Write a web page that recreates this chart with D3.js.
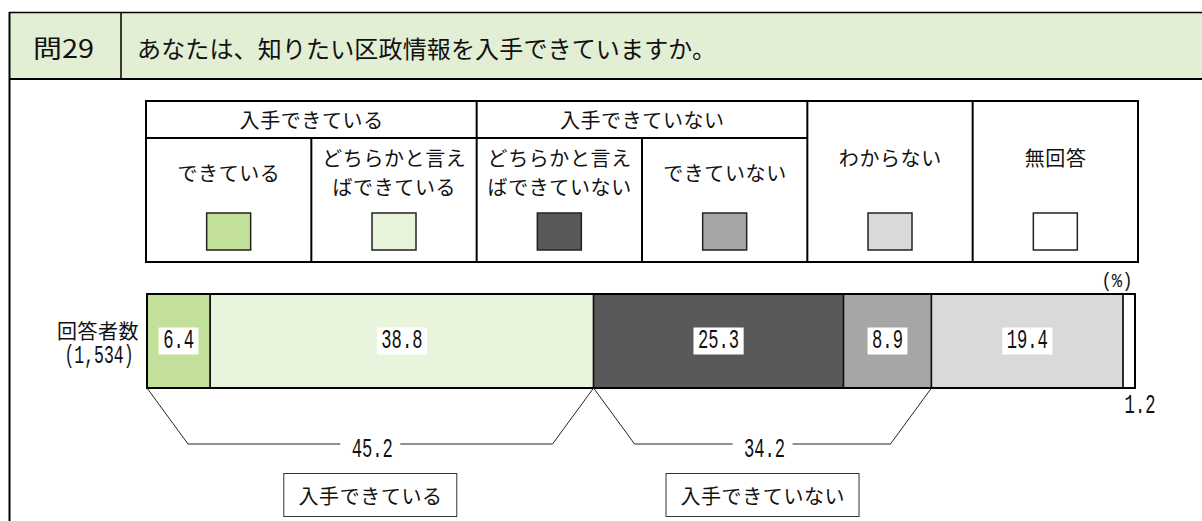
<!DOCTYPE html>
<html lang="ja">
<head>
<meta charset="utf-8">
<script src="https://cdn.jsdelivr.net/npm/d3@7"></script>
<style>
	body { margin: 0; background: #fff; }
	svg { display: block; }
	.jp { font-family: "Noto Sans CJK JP", sans-serif; fill: #111; }
	.num { font-family: "Liberation Mono", "DejaVu Sans Mono", monospace; fill: #111; }
</style>
</head>
<body>
<svg id="chart" width="1202" height="521"></svg>
<script>
const questionNo = '問29';
const questionText = 'あなたは、知りたい区政情報を入手できていますか。';
const categories = ['できている', 'どちらかと言えばできている', 'どちらかと言えばできていない', 'できていない', 'わからない', '無回答'];
const legendLines = [['できている'], ['どちらかと言え', 'ばできている'], ['どちらかと言え', 'ばできていない'], ['できていない'], ['わからない'], ['無回答']];
const values = [6.4, 38.8, 25.3, 8.9, 19.4, 1.2];
const colors = ['#c2e09a', '#e8f4dc', '#595959', '#a6a6a6', '#d9d9d9', '#ffffff'];
const groupLabels = ['入手できている', '入手できていない'];
const groupSpans = [[0, 1], [2, 3]];
const groupTotals = [45.2, 34.2];
const rowLabel = ['回答者数', '(1,534)'];

const svg = d3.select('#chart');
const charW = 10.3; // narrow mono digits

const numText = (sel, str, x, y, size = 27) => sel.append('text')
	.attr('class', 'num')
	.attr('x', x).attr('y', y)
	.attr('text-anchor', 'middle')
	.attr('dominant-baseline', 'central')
	.attr('font-size', size)
	.attr('textLength', str.length * charW)
	.attr('lengthAdjust', 'spacingAndGlyphs')
	.text(str);

// header band
svg.append('rect').attr('x', 9).attr('y', 12).attr('width', 1202).attr('height', 67).attr('fill', '#e2efd5');
svg.append('line').attr('x1', 9).attr('x2', 1202).attr('y1', 12.5).attr('y2', 12.5).attr('stroke', '#000').attr('stroke-width', 1.5);
svg.append('line').attr('x1', 9).attr('x2', 1202).attr('y1', 79).attr('y2', 79).attr('stroke', '#000').attr('stroke-width', 2);
svg.append('line').attr('x1', 9.5).attr('x2', 9.5).attr('y1', 12).attr('y2', 521).attr('stroke', '#000').attr('stroke-width', 2);
svg.append('line').attr('x1', 121).attr('x2', 121).attr('y1', 12).attr('y2', 79).attr('stroke', '#000').attr('stroke-width', 1.5);
svg.append('text').attr('class', 'jp').attr('x', 33).attr('y', 47)
	.attr('dominant-baseline', 'central').attr('font-size', 25)
	.attr('textLength', 61).attr('lengthAdjust', 'spacingAndGlyphs').text(questionNo);
svg.append('text').attr('class', 'jp').attr('x', 137).attr('y', 47)
	.attr('dominant-baseline', 'central').attr('font-size', 24)
	.attr('textLength', 579).attr('lengthAdjust', 'spacing').text(questionText);

// legend table
const col = d3.scaleBand().domain(categories).range([146, 1138]);
const legend = svg.append('g');
const tTop = 101, tMid = 138, tBottom = 262;
const jpText = (sel, str, x, y, size = 20) => sel.append('text')
	.attr('class', 'jp').attr('x', x).attr('y', y)
	.attr('text-anchor', 'middle').attr('dominant-baseline', 'central')
	.attr('font-size', size).attr('letter-spacing', 0.6)
	.text(str);

legend.append('rect').attr('x', col.range()[0]).attr('y', tTop)
	.attr('width', col.range()[1] - col.range()[0]).attr('height', tBottom - tTop)
	.attr('fill', 'none').attr('stroke', '#000').attr('stroke-width', 2);

groupSpans.forEach(([a, b], i) => {
	let x0 = col(categories[a]), x1 = col(categories[b]) + col.bandwidth();
	legend.append('line').attr('x1', x0).attr('x2', x1).attr('y1', tMid).attr('y2', tMid)
		.attr('stroke', '#000').attr('stroke-width', 2);
	jpText(legend, groupLabels[i], (x0 + x1) / 2 + 0.3, (tTop + tMid) / 2);
});

categories.forEach((c, i) => {
	let x0 = col(c), cx = x0 + col.bandwidth() / 2;
	if (i > 0) {
		let grouped = groupSpans.some(([a, b]) => i > a && i <= b);
		legend.append('line').attr('x1', x0).attr('x2', x0)
			.attr('y1', grouped ? tMid : tTop).attr('y2', tBottom)
			.attr('stroke', '#000').attr('stroke-width', 2);
	}
	let inGroup = groupSpans.some(([a, b]) => i >= a && i <= b);
	let lines = legendLines[i];
	let ys = lines.length === 2 ? [157, 186] : [inGroup ? 172 : 157];
	lines.forEach((l, k) => jpText(legend, l, cx + 0.3, ys[k]));
	legend.append('rect').attr('x', cx - 22).attr('y', 213)
		.attr('width', 44).attr('height', 37)
		.attr('fill', colors[i]).attr('stroke', '#222').attr('stroke-width', 1.5);
});

// stacked bar
const x = d3.scaleLinear().domain([0, 100]).range([147, 1135]);
const barTop = 294, barBottom = 388, barMid = (barTop + barBottom) / 2;
const starts = d3.cumsum([0].concat(values.slice(0, -1)));
const bar = svg.append('g');

bar.selectAll('rect.seg').data(values).join('rect')
	.attr('class', 'seg')
	.attr('x', (d, i) => x(starts[i]))
	.attr('y', barTop)
	.attr('width', (d, i) => x(starts[i] + d) - x(starts[i]))
	.attr('height', barBottom - barTop)
	.attr('fill', (d, i) => colors[i])
	.attr('stroke', '#111').attr('stroke-width', 1.5);
bar.append('rect').attr('x', x(0)).attr('y', barTop)
	.attr('width', x(100) - x(0)).attr('height', barBottom - barTop)
	.attr('fill', 'none').attr('stroke', '#000').attr('stroke-width', 2);

values.forEach((v, i) => {
	let str = v.toFixed(1);
	if (i === values.length - 1) {
		numText(bar, str, x(starts[i] + v / 2) + 11, 406);
		return;
	}
	let cx = x(starts[i] + v / 2), w = str.length * charW + 9;
	bar.append('rect').attr('x', cx - w / 2).attr('y', barMid - 13.5)
		.attr('width', w).attr('height', 27).attr('fill', '#fff');
	numText(bar, str, cx, barMid);
});

numText(svg, '(%)', 1117, 281, 21).attr('textLength', 31);

svg.append('text').attr('class', 'jp').attr('x', 139).attr('y', 330)
	.attr('text-anchor', 'end').attr('dominant-baseline', 'central')
	.attr('font-size', 20).attr('letter-spacing', 0.5).text(rowLabel[0]);
numText(svg, rowLabel[1], 99, 356, 25).attr('textLength', 69);

// group brackets
const lineY = 444, slant = 41, gap = 30;
groupSpans.forEach(([a, b], i) => {
	let x0 = x(starts[a]), x1 = x(starts[b] + values[b]), mid = (x0 + x1) / 2;
	let line = d3.line();
	svg.append('path')
		.attr('d', line([[x0, barBottom], [x0 + slant, lineY], [mid - gap, lineY]]))
		.attr('fill', 'none').attr('stroke', '#222').attr('stroke-width', 1);
	svg.append('path')
		.attr('d', line([[mid + gap, lineY], [x1 - slant, lineY], [x1, barBottom]]))
		.attr('fill', 'none').attr('stroke', '#222').attr('stroke-width', 1);
	numText(svg, groupTotals[i].toFixed(1), mid + 2, 450);
	let w = groupLabels[i].length * 20 + 33;
	svg.append('rect').attr('x', mid - w / 2).attr('y', 473.5)
		.attr('width', w).attr('height', 43)
		.attr('fill', '#fff').attr('stroke', '#333').attr('stroke-width', 1);
	jpText(svg, groupLabels[i], mid + 0.3, 495);
});
</script>
</body>
</html>
